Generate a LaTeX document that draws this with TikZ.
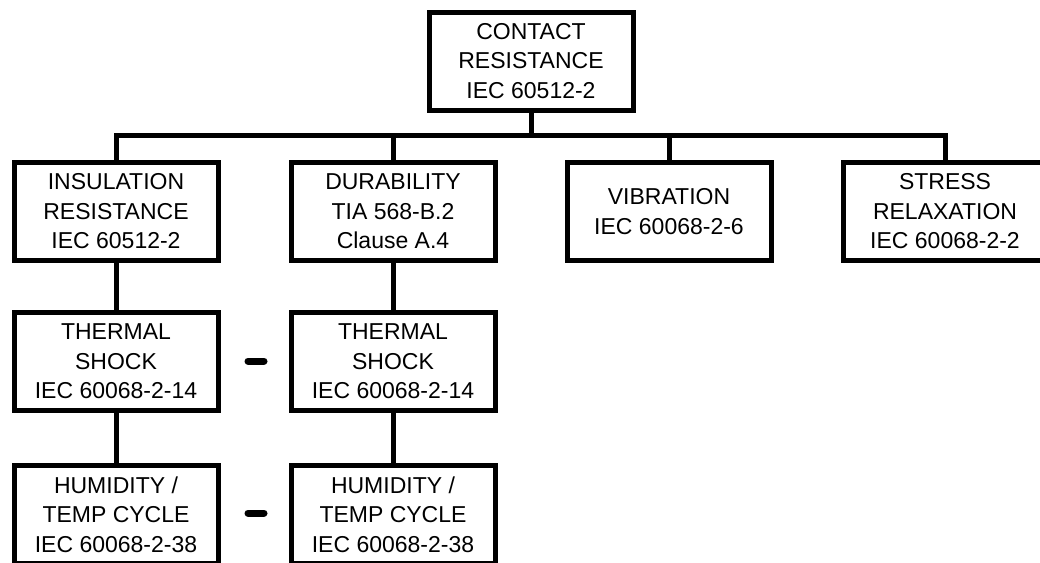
\documentclass[tikz,border=0pt]{standalone}
\usepackage{fontspec}
\setmainfont{Liberation Sans}
\begin{document}
\begin{tikzpicture}[x=1pt,y=-1pt,
  testbox/.style={draw=black, line width=5pt, fill=white, minimum width=204pt, minimum height=98pt,
    align=center, inner sep=0pt, font=\fontsize{23}{29.5}\selectfont},
  link/.style={draw=black, line width=5pt},
  sep/.style={draw=black, line width=7pt, line cap=round}]
\fill[white] (0,0) rectangle (1040,562);
\path[use as bounding box, clip] (0,0) rectangle (1040,562);
\node[testbox] (top) at (531,61) {CONTACT\\RESISTANCE\\IEC 60512-2};
\node[testbox] (a1) at (116,211.5) {INSULATION\\RESISTANCE\\IEC 60512-2};
\node[testbox] (b1) at (393,211.5) {DURABILITY\\TIA 568-B.2\\Clause A.4};
\node[testbox] (c1) at (669,211.5) {VIBRATION\\IEC 60068-2-6};
\node[testbox] (d1) at (945,211.5) {STRESS\\RELAXATION\\IEC 60068-2-2};
\node[testbox] (a2) at (116,361.5) {THERMAL\\SHOCK\\IEC 60068-2-14};
\node[testbox] (b2) at (393,361.5) {THERMAL\\SHOCK\\IEC 60068-2-14};
\node[testbox] (a3) at (116,514.5) {HUMIDITY /\\TEMP CYCLE\\IEC 60068-2-38};
\node[testbox] (b3) at (393,514.5) {HUMIDITY /\\TEMP CYCLE\\IEC 60068-2-38};
\coordinate (bar) at (531,135);
\draw[link] (top.south) -- (bar);
\draw[link] (a1.north) -- (a1.north |- bar) -- (d1.north |- bar) -- (d1.north);
\draw[link] (b1.north |- bar) -- (b1.north);
\draw[link] (c1.north |- bar) -- (c1.north);
\draw[link] (a1.south) -- (a2.north);
\draw[link] (a2.south) -- (a3.north);
\draw[link] (b1.south) -- (b2.north);
\draw[link] (b2.south) -- (b3.north);
\coordinate (m2l) at (248,361);
\coordinate (m2r) at (264,361);
\coordinate (m3l) at (248,513);
\coordinate (m3r) at (264,513);
\draw[sep] (m2l) -- (m2r);
\draw[sep] (m3l) -- (m3r);
\end{tikzpicture}
\end{document}
